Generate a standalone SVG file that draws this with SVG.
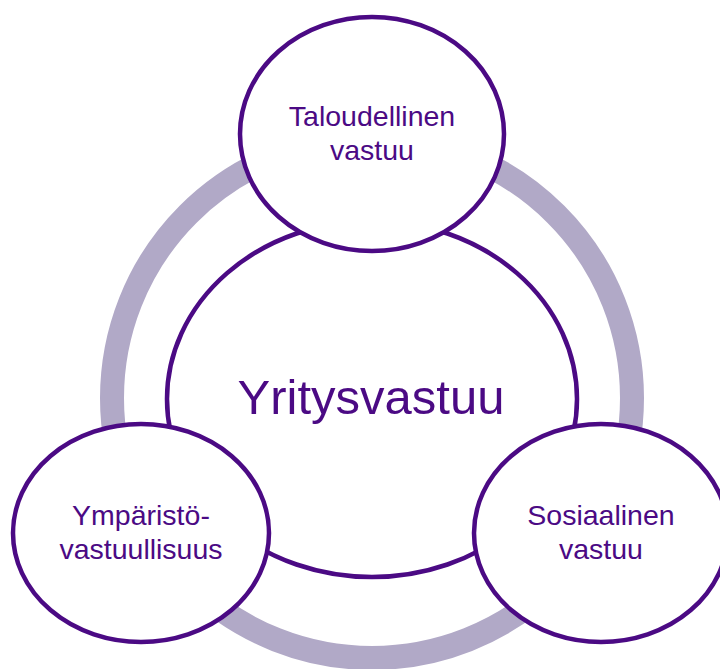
<svg xmlns="http://www.w3.org/2000/svg" width="720" height="669" viewBox="0 0 720 669">
<style>
.node{fill:#fff;stroke:#4B0A84;stroke-width:4.5}
.lbl{font-family:"Liberation Sans",Arial,sans-serif;fill:#4B0A84;text-anchor:middle}
.small{font-size:28.5px}
</style>
<rect width="720" height="669" fill="#fff"/>
<g id="connectors">
<circle cx="372" cy="398" r="260" fill="none" stroke="#B1A9C7" stroke-width="24"/>
</g>
<g id="center">
<ellipse class="node" cx="372" cy="399" rx="205" ry="178"/>
<text class="lbl" x="371" y="414" font-size="49">Yritysvastuu</text>
</g>
<g id="taloudellinen">
<ellipse class="node" cx="372" cy="134" rx="132" ry="117"/>
<text class="lbl small" x="372" y="126">Taloudellinen</text>
<text class="lbl small" x="372" y="160">vastuu</text>
</g>
<g id="ymparisto">
<ellipse class="node" cx="141" cy="533" rx="128" ry="109"/>
<text class="lbl small" x="141" y="525">Ympäristö-</text>
<text class="lbl small" x="141" y="559">vastuullisuus</text>
</g>
<g id="sosiaalinen">
<ellipse class="node" cx="601" cy="533" rx="127" ry="109"/>
<text class="lbl small" x="601" y="525">Sosiaalinen</text>
<text class="lbl small" x="601" y="559">vastuu</text>
</g>
</svg>
